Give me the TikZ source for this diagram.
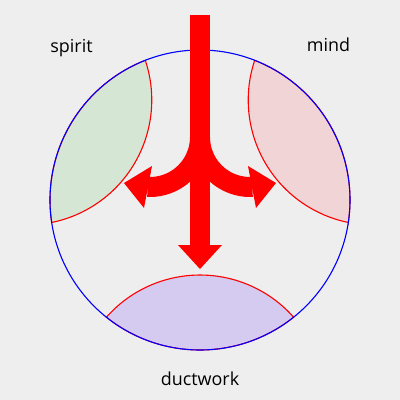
\documentclass[tikz,border=0pt]{standalone}
\usepackage{fontspec}
\setmainfont{Open Sans}
\definecolor{bg}{HTML}{EEEEEE}
\definecolor{lgreen}{HTML}{D5E6D4}
\definecolor{lpink}{HTML}{F0D4D6}
\definecolor{lpurple}{HTML}{D5CBF0}
\tikzset{
  lens/.style={draw=red, line width=0.022cm},
  rim/.style={draw=blue, line width=0.022cm},
  flow/.style={draw=red, line width=0.4cm},
  head/.style={fill=red},
  lbl/.style={font=\fontsize{10.2pt}{12pt}\selectfont, anchor=base, inner sep=0pt}
}
\begin{document}
\begin{tikzpicture}[scale=0.02]
\fill[bg] (-200,-200) rectangle (200,200);
\useasboundingbox (-200,-200) rectangle (200,200);
% lenses
\foreach \p/\c in {150/lgreen, 30/lpink, -90/lpurple}{
  \path[lens, fill=\c] ({150*cos(\p-38.62)},{150*sin(\p-38.62)})
     arc[start angle=\p-38.62, end angle=\p+38.62, radius=150]
     arc[start angle=\p+131.5, end angle=\p+228.5, radius=125] -- cycle;
}
\node[draw=none, inner sep=0pt, minimum size=0pt] (c) at (0,0) {};
\draw[rim] (c) circle[radius=150];
% arrows
\coordinate (top) at (0,185);
\coordinate (split) at (0,63);
\coordinate (bot) at (0,-46);
\draw[flow] (top) -- (bot);
\fill[head] (-22,-45) -- (22,-45) -- (0,-69) -- cycle;
\draw[flow] (split) arc[start angle=0, end angle=-93, radius=50];
\draw[flow] (split) arc[start angle=180, end angle=273, radius=50];
\fill[head] (-48,34) -- (-76,17) -- (-56,-8) -- cycle;
\fill[head] (48,34) -- (76,17) -- (56,-8) -- cycle;
% labels
\node[lbl] (spirit) at (-128.5,147) {spirit};
\node[lbl] (mind) at (128.5,148) {mind};
\node[lbl] (duct) at (0,-185) {ductwork};
\end{tikzpicture}
\end{document}
